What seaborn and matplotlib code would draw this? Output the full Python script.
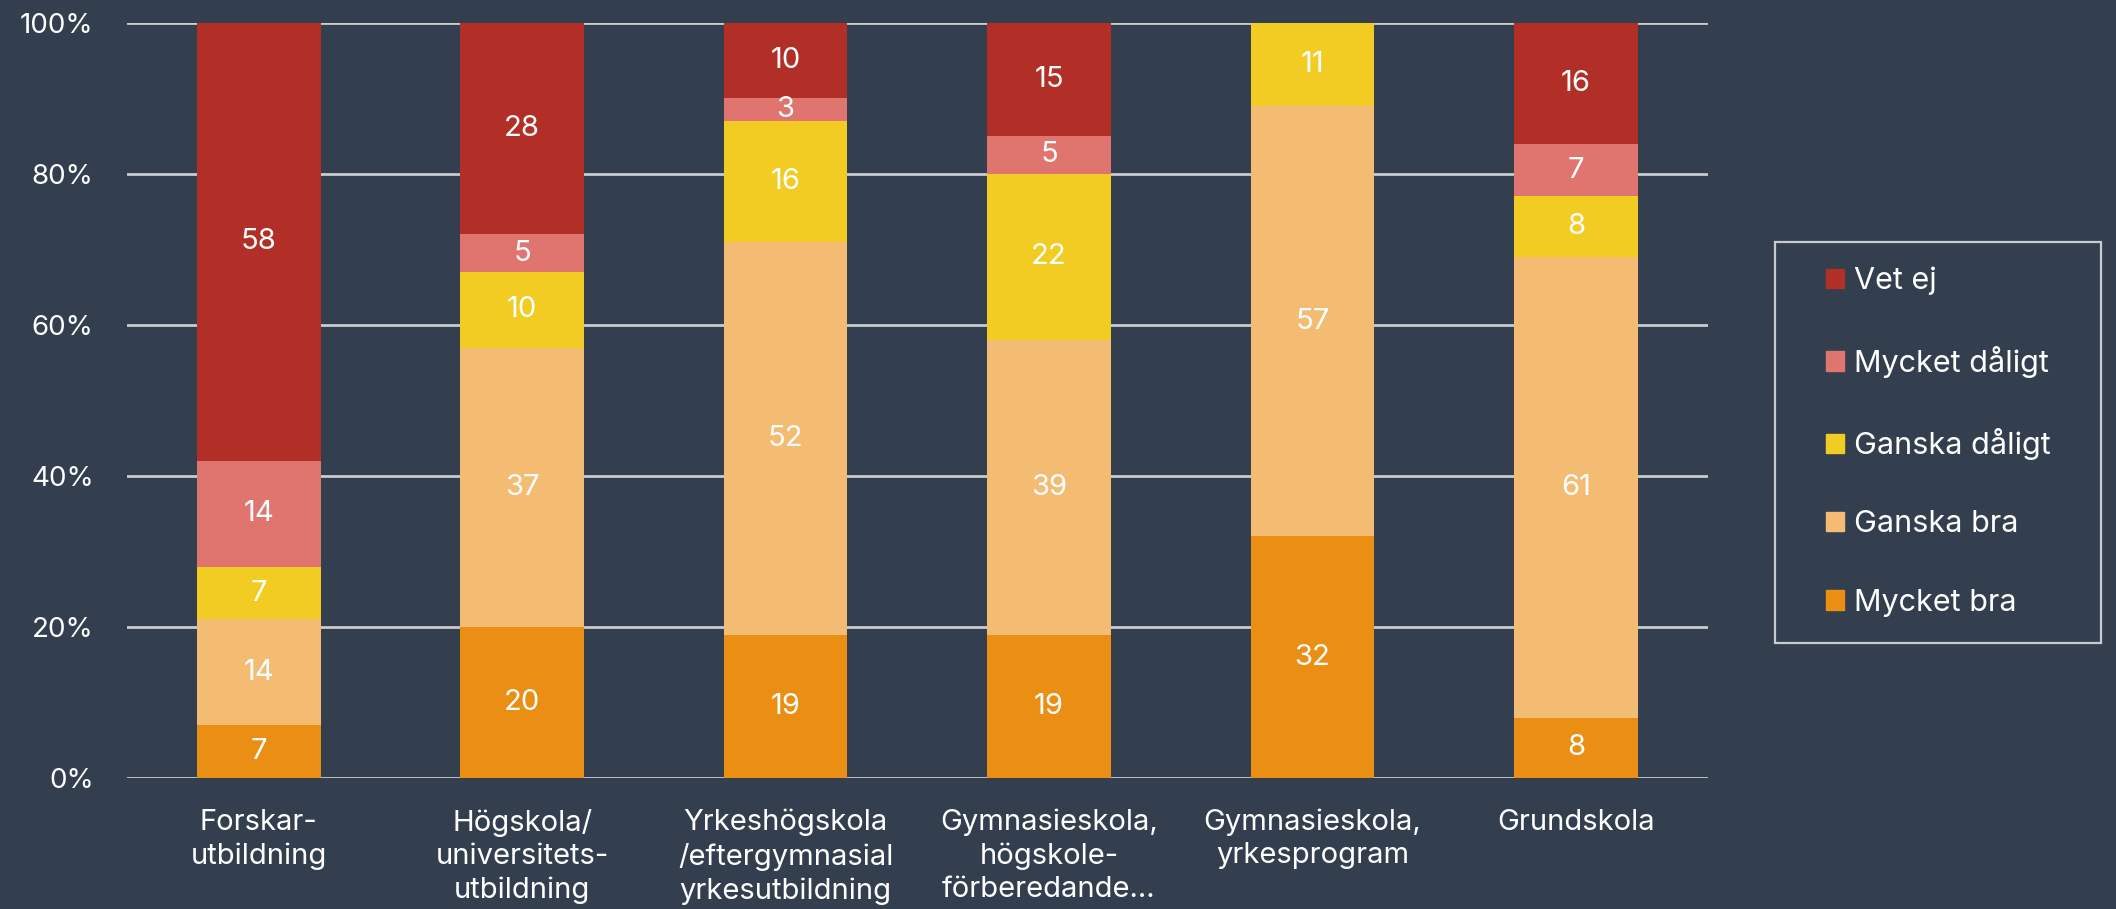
import numpy as np
import matplotlib.pyplot as plt
import matplotlib.patches as mpatches
import seaborn as sns

# categories (x axis) and stacked series, bottom to top
categories = [
    "Forskar-\nutbildning",
    "Högskola/\nuniversitets-\nutbildning",
    "Yrkeshögskola\n/eftergymnasial\nyrkesutbildning",
    "Gymnasieskola,\nhögskole-\nförberedande…",
    "Gymnasieskola,\nyrkesprogram",
    "Grundskola",
]
mycket_bra = [7, 20, 19, 19, 32, 8]
ganska_bra = [14, 37, 52, 39, 57, 61]
ganska_daligt = [7, 10, 16, 22, 11, 8]
mycket_daligt = [14, 5, 3, 5, 0, 7]
vet_ej = [58, 28, 10, 15, 0, 16]

series_names = ["Mycket bra", "Ganska bra", "Ganska dåligt", "Mycket dåligt", "Vet ej"]
series_values = [mycket_bra, ganska_bra, ganska_daligt, mycket_daligt, vet_ej]
colors = ["#EA8E14", "#F4BB72", "#F2CC22", "#E07570", "#B22F27"]

bg = "#333F4E"
grid_col = "#C9CCCF"

sns.set_style("white")
plt.rcParams["font.family"] = ["Inter", "DejaVu Sans"]

fig = plt.figure(figsize=(21.16, 9.09), dpi=100, facecolor=bg)
ax = fig.add_axes([0.060, 0.144, 0.747, 0.831])
ax.set_facecolor(bg)

bottom = np.zeros(len(categories))
for name, vals, col in zip(series_names, series_values, colors):
    vals = np.array(vals, dtype=float)
    sns.barplot(x=categories, y=vals, bottom=bottom, color=col, saturation=1,
                width=0.47, errorbar=None, ax=ax, zorder=3, linewidth=0)
    for i, v in enumerate(vals):
        if v > 0:
            ax.text(i, bottom[i] + v / 2, f"{int(v)}", ha="center", va="center",
                    color="white", fontsize=21, zorder=4)
    bottom += vals

ax.set_ylim(0, 100)
ax.set_xlim(-0.5, len(categories) - 0.5)
ax.set_yticks([0, 20, 40, 60, 80, 100])
ax.set_yticklabels(["0%", "20%", "40%", "60%", "80%", "100%"])
ax.yaxis.grid(True, color=grid_col, linewidth=2)
ax.set_axisbelow(True)
sns.despine(ax=ax, left=True, bottom=True)
ax.tick_params(axis="y", length=0, pad=24, labelsize=20, labelcolor="white")
ax.tick_params(axis="x", length=0, pad=22, labelsize=21, labelcolor="white")
for lbl in ax.get_xticklabels():
    lbl.set_verticalalignment("top")
    lbl.set_linespacing(1.3)
ax.set_xlabel("")
ax.set_ylabel("")

# legend (top to bottom: Vet ej ... Mycket bra)
handles = [mpatches.Patch(color=c, label=n) for n, c in zip(series_names, colors)][::-1]
leg = fig.legend(handles=handles, loc="center left", bbox_to_anchor=(0.863, 0.514),
                 frameon=False, borderpad=0, borderaxespad=0, fontsize=22,
                 labelcolor="white", handlelength=0.6, handleheight=0.6,
                 handletextpad=0.3, labelspacing=1.65)
fig.patches.append(mpatches.Rectangle((0.8388, 0.2926), 0.1541, 0.4411,
                                      transform=fig.transFigure, fill=False,
                                      edgecolor=grid_col, linewidth=1.6))

fig.savefig("out.png", dpi=100, facecolor=bg)
